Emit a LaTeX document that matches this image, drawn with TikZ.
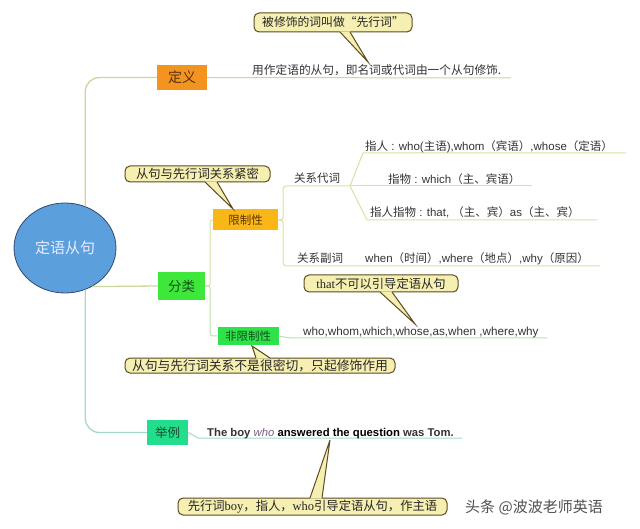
\documentclass[tikz,border=0pt]{standalone}
\usepackage{fontspec}
\setmainfont{Liberation Sans}
\newfontfamily\cjk{Noto Sans CJK SC}
\newfontfamily\lserif{Liberation Serif}
\usetikzlibrary{calc,shapes.geometric}
\newcommand\zh[1]{{\cjk #1}}
\newcommand\fs[1]{\fontsize{#1}{#1}\selectfont}

\definecolor{callfill}{HTML}{F5EFB2}
\definecolor{calldraw}{HTML}{5C4B1E}
\definecolor{ellfill}{HTML}{5B9FDC}
\definecolor{elldraw}{HTML}{34486E}
\definecolor{orangeA}{HTML}{F39420}
\definecolor{orangeB}{HTML}{F8B617}
\definecolor{greenA}{HTML}{3DE83A}
\definecolor{greenB}{HTML}{2EE24C}
\definecolor{greenC}{HTML}{22DE8C}
\definecolor{lnTan}{HTML}{D6D09A}
\definecolor{lnOl}{HTML}{C9D9A0}
\definecolor{lnYel}{HTML}{DCDFA0}
\definecolor{lnGrn}{HTML}{BCE0A8}
\definecolor{lnTeal}{HTML}{A3D9C6}
\definecolor{txtDark}{HTML}{333333}
\definecolor{whoCol}{HTML}{7A5A8A}

\begin{document}
\begin{tikzpicture}[x=1pt,y=-1pt,
  box/.style={draw=none, inner sep=0pt, font=\cjk},
  call/.style={draw=calldraw, fill=callfill, rounded corners=5pt, line width=1pt, inner sep=0pt, font=\cjk\fs{12.3}, text=black!85},
  ptfill/.style={fill=callfill},
  ptdraw/.style={draw=calldraw, line width=1pt, line join=miter},
  lbl/.style={inner sep=0pt, anchor=base west, font=\fs{11.5}, text=txtDark},
  mainln/.style={line width=1.3pt},
  subln/.style={line width=1pt},
]
\useasboundingbox (0,0) rectangle (640,529);

% central ellipse
\node[ellipse, draw=elldraw, fill=ellfill, line width=0.8pt, minimum width=102pt, minimum height=90pt, inner sep=0pt, font=\cjk\fs{15}, text=white!92!blue] (ell) at (65,248) {定语从句};

% level-1 boxes
\node[box, fill=orangeA, minimum width=50pt, minimum height=25pt, font=\cjk\fs{14}, text={rgb,255:red,90;green,50;blue,15}] (dingyi) at (182,77.5) {定义};
\node[box, fill=greenA, minimum width=47pt, minimum height=28pt, font=\cjk\fs{13.5}, text={rgb,255:red,25;green,80;blue,25}] (fenlei) at (181.5,286) {分类};
\node[box, fill=greenC, minimum width=41pt, minimum height=25pt, font=\cjk\fs{12.5}, text={rgb,255:red,20;green,80;blue,50}] (juli) at (167.5,432.5) {举例};

% level-2 boxes
\node[box, fill=orangeB, minimum width=65pt, minimum height=21pt, font=\cjk\fs{11.5}, text={rgb,255:red,90;green,55;blue,10}] (xianzhi) at (245.5,220) {限制性};
\node[box, fill=greenB, minimum width=61pt, minimum height=18pt, font=\cjk\fs{11.5}, text={rgb,255:red,20;green,80;blue,25}] (feixian) at (248,336) {非限制性};

% coordinates for line ends
\coordinate (defEnd) at (511,78);
\coordinate (j1) at (350,186);
\coordinate (k1) at (363,153);
\coordinate (k1e) at (626,153);
\coordinate (j1e) at (532,186);
\coordinate (k3) at (367,220);
\coordinate (k3e) at (597,220);
\coordinate (k4e) at (600,266);
\coordinate (m1) at (290,338);
\coordinate (m1e) at (547,338);
\coordinate (n1) at (198,438);
\coordinate (n1e) at (462,438);

% main connectors
\draw[lnTan, mainln, rounded corners=14pt] (ell.64) |- (dingyi.west);
\draw[lnOl, mainln] (ell.-55) -- (fenlei.west);
\draw[lnTeal, mainln, rounded corners=14pt] (ell.-64) |- (juli.west);

\draw[lnTan, subln] (dingyi.east) -- (defEnd);
\draw[lnYel, subln, rounded corners=2.5pt] (fenlei.east) -- ++(5,0) |- (xianzhi.west);
\draw[lnGrn, subln, rounded corners=2.5pt] (fenlei.east) -- ++(5,0) |- (feixian.west);
\draw[lnYel, subln, rounded corners=3pt] (xianzhi.east) -- ++(5,0) |- (j1);
\draw[lnYel, subln, rounded corners=3pt] (xianzhi.east) -- ++(5,0) |- (k4e);
\draw[lnYel, subln] (j1) -- (k1) -- (k1e);
\draw[lnYel, subln] (j1) -- (j1e);
\draw[lnYel, subln] (j1) -- (k3) -- (k3e);
\draw[lnGrn, subln, rounded corners=3pt] (feixian.east) -- (m1) -- (m1e);
\draw[lnTeal, subln] (juli.east) -- (n1) -- (n1e);

% labels
\node[lbl, font=\cjk\fs{11.7}] (deftxt) at (252,75) {用作定语的从句，即名词或代词由一个从句修饰.};
\node[lbl, font=\cjk\fs{11.5}] (gxdc) at (294,183) {关系代词};
\node[lbl] (zr) at (365,151) {\zh{指人} : who(\zh{主语}),whom\zh{（宾语）},whose\zh{（定语）}};
\node[lbl] (zw) at (388,184) {\zh{指物} : which\zh{（主、宾语）}};
\node[lbl] (zrzw) at (370,217) {\zh{指人指物} : that, \zh{（主、宾）}as\zh{（主、宾）}};
\node[lbl, font=\cjk\fs{11.5}] (gxfc) at (297,263) {关系副词};
\node[lbl] (when) at (365,263) {when\zh{（时间）},where\zh{（地点）},why\zh{（原因）}};
\node[lbl, font=\fs{11.7}] (feitxt) at (303,335) {who,whom,which,whose,as,when ,where,why};
\node[lbl, font=\fs{11.3}] (ex) at (207,436) {\textbf{The boy} \textcolor{whoCol}{\textit{who}} \textbf{\textcolor{black}{answered the question}} \textbf{was Tom.}};

% callouts
\node[call, minimum width=158pt, minimum height=19pt, font=\cjk\fs{11.8}] (c1) at (333,22.5) {被修饰的词叫做“先行词”};
\node[call, minimum width=145pt, minimum height=16pt] (c2) at (197.5,174) {从句与先行词关系紧密};
\node[call, minimum width=154pt, minimum height=17pt] (c3) at (381,283.5) {{\lserif\fs{12.5}that}不可以引导定语从句};
\node[call, minimum width=270pt, minimum height=15pt, font=\cjk\fs{12.8}] (c4) at (260,365.5) {从句与先行词关系不是很密切，只起修饰作用};
\node[call, minimum width=269pt, minimum height=17pt] (c5) at (312.5,506.5) {先行词{\lserif\fs{12.5}boy}，指人，{\lserif\fs{12.5}who}引导定语从句，作主语};

\coordinate (t1) at (368,62);
\coordinate (t2) at (233,209);
\coordinate (t3) at (415,324);
\coordinate (t4) at (252,346);
\coordinate (t5) at (330,440);

% pointers (south side)
\fill[ptfill] ($(c1.south)+(7,-1)$) -- (t1) -- ($(c1.south)+(17,-1)$) -- cycle;
\draw[ptdraw] ($(c1.south)+(7,-0.5)$) -- (t1) -- ($(c1.south)+(17,-0.5)$);
\fill[ptfill] ($(c2.south)+(7.5,-1)$) -- (t2) -- ($(c2.south)+(19.5,-1)$) -- cycle;
\draw[ptdraw] ($(c2.south)+(7.5,-0.5)$) -- (t2) -- ($(c2.south)+(19.5,-0.5)$);
\fill[ptfill] ($(c3.south)+(-1,-1)$) -- (t3) -- ($(c3.south)+(11,-1)$) -- cycle;
\draw[ptdraw] ($(c3.south)+(-1,-0.5)$) -- (t3) -- ($(c3.south)+(11,-0.5)$);
% pointers (north side)
\fill[ptfill] ($(c4.north)+(-4,1)$) -- (t4) -- ($(c4.north)+(10,1)$) -- cycle;
\draw[ptdraw] ($(c4.north)+(-4,0.5)$) -- (t4) -- ($(c4.north)+(10,0.5)$);
\fill[ptfill] ($(c5.north)+(-2.5,1)$) -- (t5) -- ($(c5.north)+(9.5,1)$) -- cycle;
\draw[ptdraw] ($(c5.north)+(-2.5,0.5)$) -- (t5) -- ($(c5.north)+(9.5,0.5)$);

% watermark
\node[lbl, font=\cjk\fs{15}, text={rgb,255:red,80;green,80;blue,80}] (wm) at (465,512) {头条 @波波老师英语};
\end{tikzpicture}
\end{document}
